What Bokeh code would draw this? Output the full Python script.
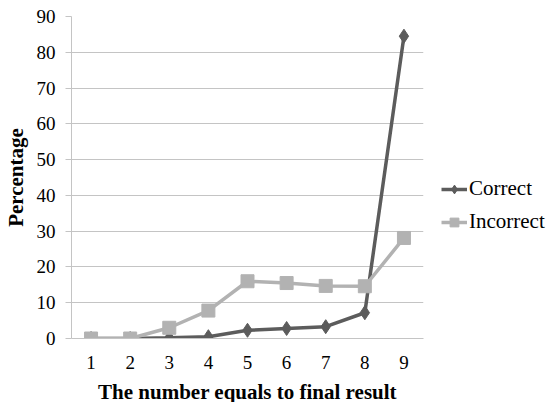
from bokeh.plotting import figure
from bokeh.models import FactorRange, Range1d, FixedTicker, Legend, LegendItem
from bokeh.embed import file_html
from bokeh.resources import INLINE

categories = ["1", "2", "3", "4", "5", "6", "7", "8", "9"]
correct = [0, 0, 0.2, 0.5, 2.3, 2.8, 3.3, 7.2, 84.5]
incorrect = [0, 0, 3.0, 7.8, 16.0, 15.5, 14.7, 14.6, 28.1]
y_ticks = [0, 10, 20, 30, 40, 50, 60, 70, 80, 90]

FONT = "Liberation Serif"
C_COR = "#5c5c5c"
C_INC = "#b2b2b2"
GRID = "#c4c4c4"

p = figure(frame_width=352, frame_height=322, x_range=FactorRange(*categories, range_padding=0),
           y_range=Range1d(0, 90), output_backend="svg", toolbar_location=None,
           min_border_left=64, min_border_right=124, min_border_top=16, min_border_bottom=56)
p.outline_line_color = None
p.background_fill_color = "white"

r1l = p.line(categories, correct, line_color=C_COR, line_width=3.5)
r1m = p.scatter(categories, correct, marker="diamond", size=14, fill_color=C_COR, line_color=C_COR)
r2l = p.line(categories, incorrect, line_color=C_INC, line_width=3.5)
r2m = p.scatter(categories, incorrect, marker="square", size=13, fill_color=C_INC, line_color=C_INC)

p.yaxis.ticker = FixedTicker(ticks=y_ticks)
p.yaxis.axis_label = "Percentage"
p.xaxis.axis_label = "The number equals to final result"
for ax in (p.xaxis[0], p.yaxis[0]):
    ax.axis_label_text_font = FONT
    ax.axis_label_text_font_style = "bold"
    ax.axis_label_text_font_size = "21px"
    ax.axis_label_text_color = "black"
    ax.major_label_text_font = FONT
    ax.major_label_text_font_size = "19px"
    ax.major_label_text_color = "black"
    ax.axis_line_color = GRID
    ax.major_tick_line_color = GRID
    ax.minor_tick_line_color = None
p.yaxis.major_tick_out = 6
p.yaxis.major_tick_in = 0
p.yaxis.major_label_standoff = 10
p.yaxis.axis_label_standoff = 6
p.xaxis.major_tick_out = 0
p.xaxis.major_tick_in = 0
p.xaxis.major_label_standoff = 17
p.xaxis.axis_label_standoff = 8
p.xgrid.grid_line_color = None
p.ygrid.grid_line_color = GRID
p.ygrid.ticker = FixedTicker(ticks=y_ticks)

legend = Legend(items=[LegendItem(label="Correct", renderers=[r1l, r1m]),
                       LegendItem(label="Incorrect", renderers=[r2l, r2m])],
                location=(18, 104), label_text_font=FONT, label_text_font_size="21px",
                label_text_color="black", glyph_width=26, glyph_height=22, label_height=22,
                label_standoff=2, spacing=8, padding=0, margin=0,
                border_line_color=None, background_fill_alpha=0)
p.add_layout(legend, "right")

open("out.html", "w").write(file_html(p, INLINE))
